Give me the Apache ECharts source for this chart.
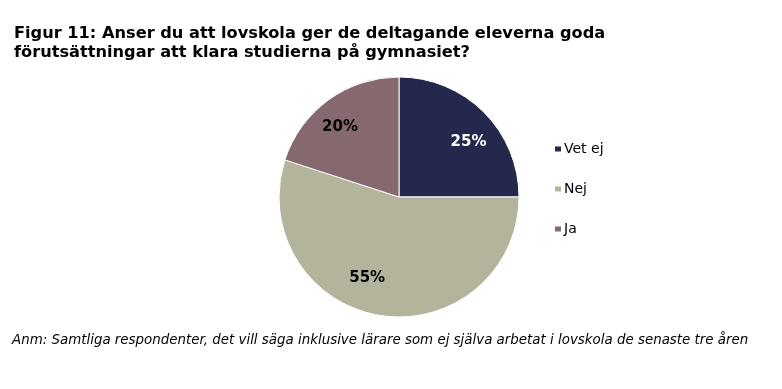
<!DOCTYPE html>
<html><head><meta charset="utf-8">
<script src="https://cdn.jsdelivr.net/npm/echarts@6/dist/echarts.min.js"></script>
<style>html,body{margin:0;padding:0;background:#fff}#c{width:782px;height:389px}</style>
</head><body><div id="c"></div>
<script>
const categories = ['Vet ej', 'Nej', 'Ja'];
const values = [25, 55, 20];
const colors = ['#24284d', '#b4b49c', '#86696f'];
const labelColors = ['#ffffff', '#000000', '#000000'];
const labelOffsets = [[25, -10], [-22, 19], [-22, -19]];
const titleText = 'Figur 11: Anser du att lovskola ger de deltagande eleverna goda\nförutsättningar att klara studierna på gymnasiet?';
const noteText = 'Anm: Samtliga respondenter, det vill säga inklusive lärare som ej själva arbetat i lovskola de senaste tre åren';

const chart = echarts.init(document.getElementById('c'), null, {renderer: 'canvas'});
chart.setOption({
  animation: false,
  backgroundColor: '#ffffff',
  title: [{
    text: titleText, left: 14, top: 24, padding: 0,
    textStyle: {fontFamily: 'DejaVu Sans', fontWeight: 'bold', fontSize: 16.2, lineHeight: 19, color: '#000'}
  }, {
    text: noteText, left: 12, top: 334, padding: 0,
    textStyle: {fontFamily: 'DejaVu Sans', fontStyle: 'italic', fontWeight: 'normal', fontSize: 13.4, color: '#000'}
  }],
  legend: {
    orient: 'vertical', left: 550, top: 136,
    itemWidth: 6, itemHeight: 5, itemGap: 24,
    icon: 'rect',
    itemStyle: {borderWidth: 0},
    textStyle: {fontFamily: 'DejaVu Sans', fontSize: 14, lineHeight: 16, color: '#000', padding: [0, 0, 0, -2]},
    data: categories
  },
  series: [{
    type: 'pie',
    center: [399, 197], radius: 120,
    startAngle: 90, clockwise: true,
    label: {show: true, position: 'inside', formatter: '{c}%', fontFamily: 'DejaVu Sans', fontWeight: 'bold', fontSize: 15},
    labelLine: {show: false},
    itemStyle: {borderColor: '#ffffff', borderWidth: 1},
    emphasis: {disabled: true},
    data: categories.map((n, i) => ({
      name: n, value: values[i],
      itemStyle: {color: colors[i]},
      label: {color: labelColors[i], offset: labelOffsets[i]}
    }))
  }]
});
</script></body></html>
